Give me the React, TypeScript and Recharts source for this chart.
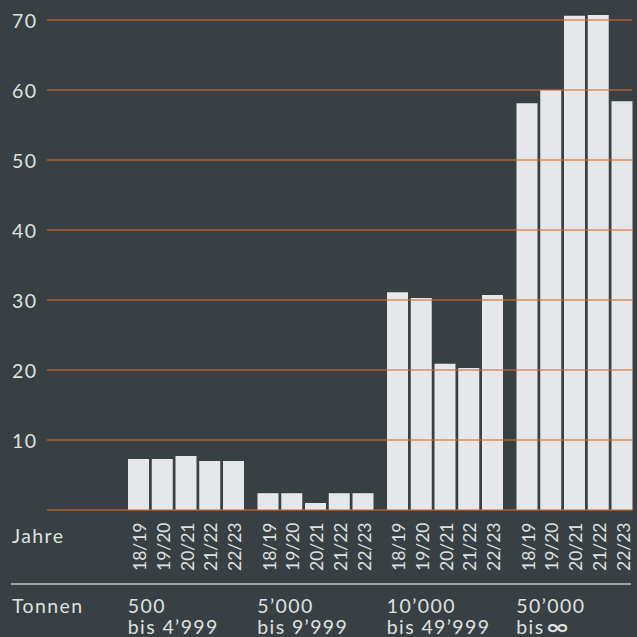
import React from 'react';
import { BarChart, Bar, XAxis, YAxis, ReferenceLine, LabelList } from 'recharts';

// Tonnage classes (x categories) and season series
const groupFrom = ['500', '5’000', '10’000', '50’000'];
const groupTo = ['bis 4’999', 'bis 9’999', 'bis 49’999', 'bis ∞'];
const years = ['18/19', '19/20', '20/21', '21/22', '22/23'];

const v1819 = [7.3, 2.4, 31.1, 58.1];
const v1920 = [7.3, 2.4, 30.3, 60.0];
const v2021 = [7.7, 1.0, 20.9, 70.6];
const v2122 = [7.0, 2.4, 20.3, 70.7];
const v2223 = [7.0, 2.4, 30.7, 58.4];

const yTicks = [10, 20, 30, 40, 50, 60, 70];

const seriesValues = [v1819, v1920, v2021, v2122, v2223];
const seriesKeys = ['s0', 's1', 's2', 's3', 's4'];

const data = groupFrom.map((g, i) => {
  const row: Record<string, string | number> = { group: g, to: groupTo[i] };
  seriesKeys.forEach((k, j) => {
    row[k] = seriesValues[j][i];
  });
  return row;
});

const BG = '#384043';
const BAR = '#e6e7e8';
const TEXT = '#dfe0e0';
const GRID = '#db6c2b';
const FONT = 'Lato, "Noto Sans", sans-serif';
const SPACING = 1.4;
const Y_MAX = 510 / 7;

const YTick = (props: any) => {
  const { y, payload } = props;
  return (
    <text
      x={12}
      y={y}
      fill={TEXT}
      fontFamily={FONT}
      fontSize={19.5}
      letterSpacing={SPACING}
      dominantBaseline="central"
      textAnchor="start"
    >
      {payload.value}
    </text>
  );
};

const GroupTick = (props: any) => {
  const { x, y, payload, index } = props;
  const left = x - 58;
  const to = groupTo[index] ?? '';
  const hasInf = to.includes('∞');
  return (
    <g>
      <text x={left} y={y + 103} fill={TEXT} fontFamily={FONT} fontSize={19.5} letterSpacing={SPACING}>
        {payload.value}
      </text>
      {hasInf ? (
        <g>
          <text x={left} y={y + 124} fill={TEXT} fontFamily={FONT} fontSize={19.5} letterSpacing={SPACING}>
            {to.replace(' ∞', '')}
          </text>
          <text
            x={0}
            y={0}
            transform={`translate(${left + 29}, ${y + 117}) scale(1.55, 1.05)`}
            fill={TEXT}
            fontFamily="DejaVu Sans"
            fontSize={19}
            fontWeight="bold"
            dominantBaseline="central"
          >
            ∞
          </text>
        </g>
      ) : (
        <text x={left} y={y + 124} fill={TEXT} fontFamily={FONT} fontSize={19.5} letterSpacing={SPACING}>
          {to}
        </text>
      )}
    </g>
  );
};

const makeYearLabel = (year: string) => (props: any) => {
  const { x, y, width, height } = props;
  const cx = x + width / 2 + 1;
  const base = y + height + 61;
  return (
    <text
      x={cx}
      y={base}
      transform={`rotate(-90, ${cx}, ${base})`}
      fill={TEXT}
      fontFamily={FONT}
      fontSize={17.5}
      textAnchor="start"
      dominantBaseline="central"
    >
      {year}
    </text>
  );
};

const chartMargin = { top: 0, right: 5, bottom: 0, left: 0 };

export default function App() {
  return (
    <div
      style={{
        position: 'absolute',
        left: 0,
        top: 0,
        width: 637,
        height: 637,
        background: BG,
        overflow: 'hidden',
      }}
    >
      {/* bars, axes and labels */}
      <BarChart width={637} height={637} data={data} margin={chartMargin} barGap={2.75}>
        <XAxis
          dataKey="group"
          height={127}
          padding={{ left: 74, right: -7 }}
          axisLine={false}
          tickLine={false}
          tickSize={0}
          tickMargin={0}
          interval={0}
          tick={<GroupTick />}
        />
        <YAxis
          width={47}
          domain={[0, Y_MAX]}
          allowDataOverflow
          ticks={yTicks}
          axisLine={false}
          tickLine={false}
          tick={<YTick />}
        />
        {seriesKeys.map((k, j) => (
          <Bar key={k} dataKey={k} fill={BAR} barSize={21} isAnimationActive={false}>
            <LabelList dataKey={k} content={makeYearLabel(years[j])} />
          </Bar>
        ))}
      </BarChart>

      {/* translucent grid lines layered over the bars */}
      <div style={{ position: 'absolute', left: 0, top: 0, pointerEvents: 'none' }}>
        <BarChart width={637} height={637} data={data} margin={chartMargin}>
          <XAxis dataKey="group" height={127} padding={{ left: 74, right: -7 }} tick={false} axisLine={false} tickLine={false} />
          <YAxis width={47} domain={[0, Y_MAX]} allowDataOverflow ticks={yTicks} tick={false} axisLine={false} tickLine={false} />
          {[0, ...yTicks].map((t) => (
            <ReferenceLine key={t} y={t} stroke={GRID} strokeOpacity={0.72} strokeWidth={1.6} />
          ))}
        </BarChart>
      </div>

      <svg
        width={637}
        height={637}
        style={{ position: 'absolute', left: 0, top: 0, pointerEvents: 'none' }}
      >
        <text x={12} y={543} fill={TEXT} fontFamily={FONT} fontSize={19.5} letterSpacing={SPACING}>
          Jahre
        </text>
        <line x1={11} x2={631} y1={584} y2={584} stroke="#9fa3a4" strokeWidth={2} />
        <text x={12} y={613} fill={TEXT} fontFamily={FONT} fontSize={19.5} letterSpacing={SPACING}>
          Tonnen
        </text>
      </svg>
    </div>
  );
}
